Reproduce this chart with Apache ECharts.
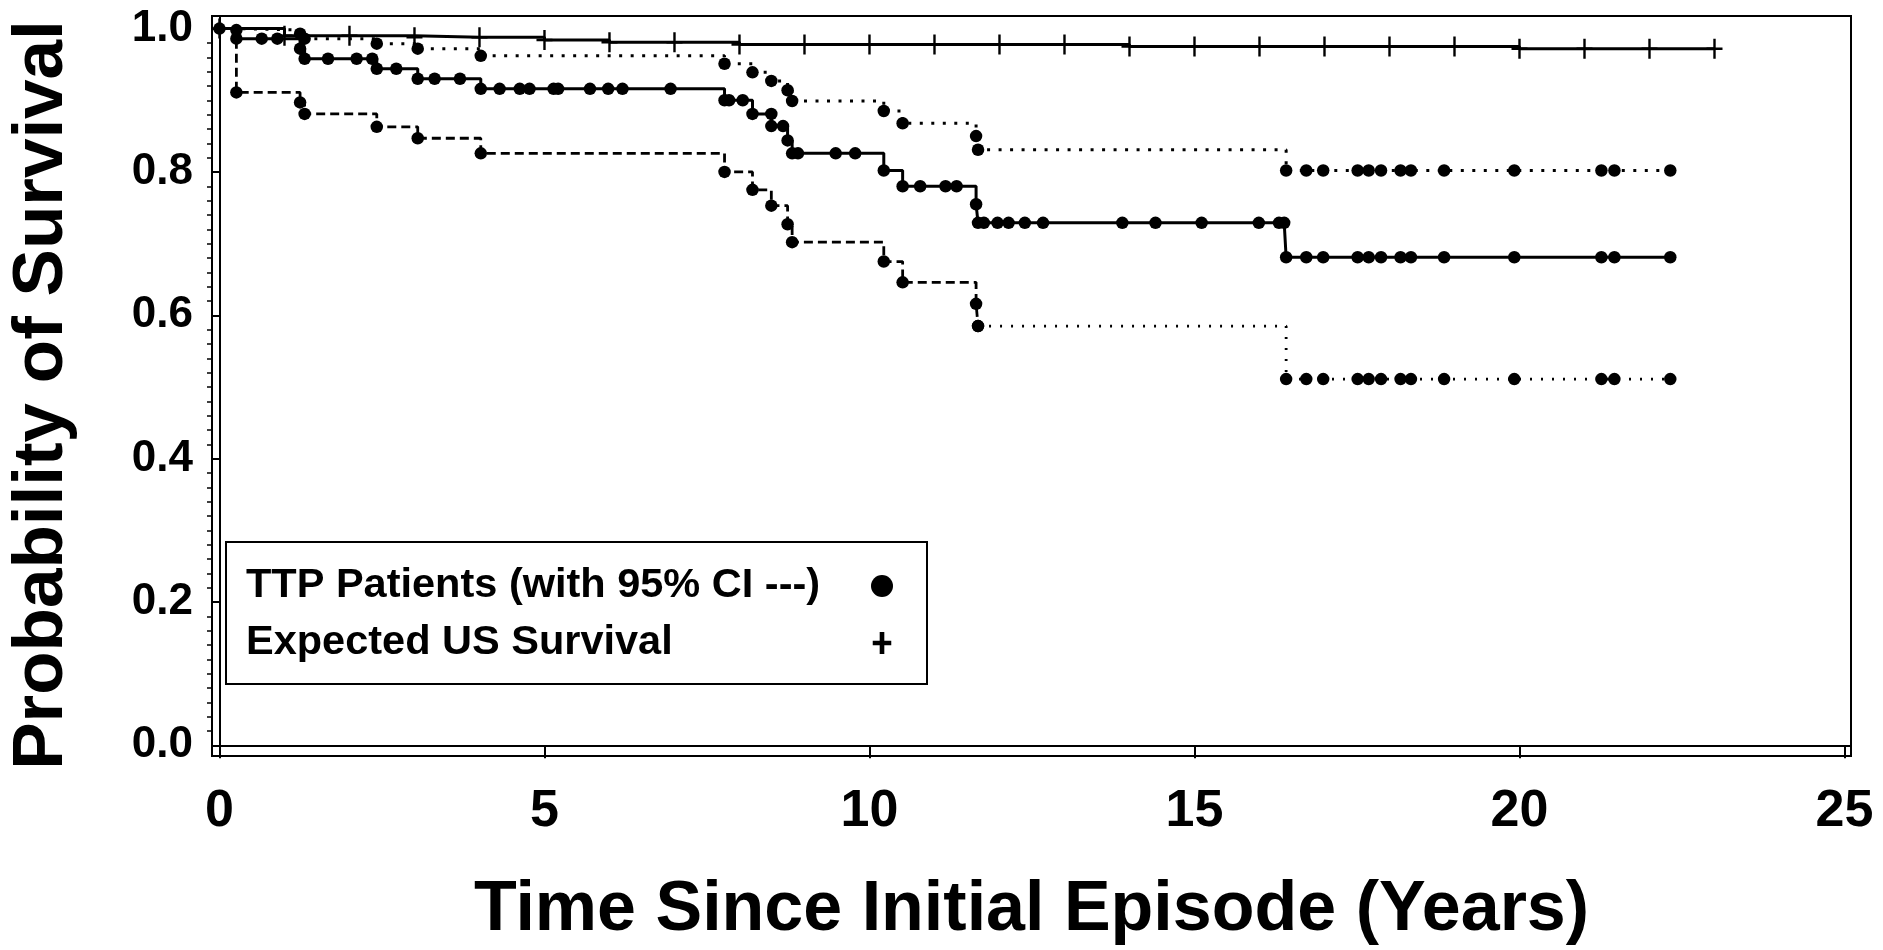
<!DOCTYPE html>
<html>
<head>
<meta charset="utf-8">
<script src="https://cdn.jsdelivr.net/npm/echarts@6/dist/echarts.min.js"></script>
<style>html,body{margin:0;padding:0;background:#fff}#chart{width:1883px;height:950px}</style>
</head>
<body>
<div id="chart"></div>
<script>
// ---------- data ----------
const xTickValues = [0, 5, 10, 15, 20, 25];
const yTickValues = [0.0, 0.2, 0.4, 0.6, 0.8, 1.0];

const KM_NAME = 'TTP Patients (with 95% CI ---)';
const EXP_NAME = 'Expected US Survival';

// Kaplan-Meier estimate (solid, markers at every point)
const kmTimes = [0, 0.26, 0.65, 0.89, 1.24, 1.31, 1.67, 2.11, 2.35, 2.42, 2.72, 3.05, 3.31, 3.70,
  4.02, 4.31, 4.62, 4.77, 5.14, 5.21, 5.70, 5.98, 6.20, 6.94,
  7.77, 7.84, 8.05, 8.20, 8.49, 8.49, 8.67, 8.74, 8.81, 8.90, 9.48, 9.78,
  10.22, 10.51, 10.78, 11.17, 11.34, 11.64, 11.67,
  11.76, 11.97, 12.14, 12.39, 12.67, 13.89, 14.40, 15.11, 15.99, 16.30, 16.38,
  16.41, 16.72, 16.98, 17.51, 17.68, 17.87, 18.17, 18.33, 18.84, 19.92, 21.26, 21.46, 22.32];
const kmSurv = [1.000, 0.986, 0.986, 0.986, 0.972, 0.958, 0.958, 0.958, 0.958, 0.944, 0.944, 0.930, 0.930, 0.930,
  0.916, 0.916, 0.916, 0.916, 0.916, 0.916, 0.916, 0.916, 0.916, 0.916,
  0.900, 0.900, 0.900, 0.881, 0.881, 0.864, 0.864, 0.844, 0.826, 0.826, 0.826, 0.826,
  0.802, 0.780, 0.780, 0.780, 0.780, 0.755, 0.729,
  0.729, 0.729, 0.729, 0.729, 0.729, 0.729, 0.729, 0.729, 0.729, 0.729, 0.729,
  0.681, 0.681, 0.681, 0.681, 0.681, 0.681, 0.681, 0.681, 0.681, 0.681, 0.681, 0.681, 0.681];

// Upper 95% CI (dotted)
const upperTimes = [0, 0.26, 1.24, 1.31, 2.42, 3.05, 4.02, 7.77, 8.20, 8.49, 8.74, 8.81, 10.22, 10.51, 11.64, 11.67,
  16.41, 16.72, 16.98, 17.51, 17.68, 17.87, 18.17, 18.33, 18.84, 19.92, 21.26, 21.46, 22.32];
const upperSurv = [1.000, 0.998, 0.993, 0.986, 0.979, 0.972, 0.962, 0.951, 0.939, 0.927, 0.914, 0.899, 0.885, 0.868, 0.850, 0.831,
  0.802, 0.802, 0.802, 0.802, 0.802, 0.802, 0.802, 0.802, 0.802, 0.802, 0.802, 0.802, 0.802];

// Lower 95% CI (dashed up to 11.67 years, dotted afterwards)
const lowerTimes = [0, 0.26, 1.24, 1.31, 2.42, 3.05, 4.02, 7.77, 8.20, 8.49, 8.74, 8.81, 10.22, 10.51, 11.64, 11.67,
  16.41, 16.72, 16.98, 17.51, 17.68, 17.87, 18.17, 18.33, 18.84, 19.92, 21.26, 21.46, 22.32];
const lowerSurv = [1.000, 0.911, 0.897, 0.881, 0.863, 0.847, 0.826, 0.800, 0.775, 0.753, 0.727, 0.702, 0.675, 0.646, 0.616, 0.585,
  0.511, 0.511, 0.511, 0.511, 0.511, 0.511, 0.511, 0.511, 0.511, 0.511, 0.511, 0.511, 0.511];
const lowerDottedFrom = 11.67;

// Expected US survival (solid with + markers, yearly)
const expTimes = [0, 1, 2, 3, 4, 5, 6, 7, 8, 9, 10, 11, 12, 13, 14, 15, 16, 17, 18, 19, 20, 21, 22, 23];
const expSurv = [1.000, 0.990, 0.990, 0.988, 0.988, 0.984, 0.981, 0.981, 0.978, 0.978, 0.978, 0.978, 0.978, 0.978,
  0.975, 0.975, 0.975, 0.975, 0.975, 0.975, 0.972, 0.972, 0.972, 0.972];

// ---------- helpers ----------
function fontAvailable(name) {
  const c = document.createElement('canvas').getContext('2d');
  const s = 'Time Since Initial Episode 0123456789';
  c.font = 'bold 40px monospace';
  const a = c.measureText(s).width;
  c.font = 'bold 40px "' + name + '", monospace';
  const b = c.measureText(s).width;
  return Math.abs(a - b) > 1;
}
const narrowOK = fontAvailable('Liberation Sans Narrow');
const SANS = '"Liberation Sans", Arial, Helvetica, sans-serif';
const NARROW = narrowOK ? '"Liberation Sans Narrow", "Arial Narrow", sans-serif' : SANS;
const xLabelSize = narrowOK ? 60 : 52;
const xNameSize = narrowOK ? 87 : 70;

const PLUS = 'path://M6.8,0H9.2V8.3H16V10.7H9.2V19H6.8V10.7H0V8.3H6.8Z';
const PLUS_ICON = 'path://M6,0H10V7.5H16V11.5H10V19H6V11.5H0V7.5H6Z';

function pts(times, vals, markFirst, sym) {
  return times.map((t, i) => ({
    value: [t, vals[i]],
    symbol: (i === 0 && !markFirst) ? 'none' : sym
  }));
}

const lowerSplit = lowerTimes.indexOf(lowerDottedFrom);
const yMinor = [];
for (let k = 0; k <= 50; k++) { if (k % 10 !== 0) yMinor.push(+(k * 0.02).toFixed(2)); }

const X_MIN = -0.115, X_MAX = 25.1, Y_MIN = -0.0149, Y_MAX = 1.0176;

const lineBase = {
  type: 'line', step: 'end', showSymbol: true, showAllSymbol: true,
  symbolSize: 12.5, color: '#000', itemStyle: { color: '#000' },
  emphasis: { disabled: true }, animation: false
};

const chart = echarts.init(document.getElementById('chart'), null, { renderer: 'canvas' });
chart.setOption({
  backgroundColor: '#fff',
  animation: false,
  grid: {
    left: 212, right: 32, top: 16, bottom: 194,
    show: true, borderColor: '#000', borderWidth: 2, backgroundColor: 'transparent',
    containLabel: false, outerBoundsMode: 'none'
  },
  xAxis: {
    type: 'value', min: X_MIN, max: X_MAX,
    name: 'Time Since Initial Episode (Years)', nameLocation: 'middle', nameGap: 120,
    nameTextStyle: { fontFamily: NARROW, fontWeight: 'bold', fontSize: xNameSize, color: '#000' },
    axisLine: { show: true, lineStyle: { color: '#000', width: 2 } },
    axisTick: { show: true, customValues: xTickValues, length: 13, lineStyle: { color: '#000', width: 2 } },
    axisLabel: { show: true, customValues: xTickValues, margin: 30, fontFamily: NARROW, fontWeight: 'bold', fontSize: xLabelSize, color: '#000' },
    splitLine: { show: false }
  },
  yAxis: [{
    type: 'value', min: Y_MIN, max: Y_MAX, position: 'left',
    name: 'Probability of Survival', nameLocation: 'middle', nameGap: 134,
    nameTextStyle: { fontFamily: SANS, fontWeight: 'bold', fontSize: 71, color: '#000', padding: [0, 18, 0, 0] },
    axisLine: { show: true, lineStyle: { color: '#000', width: 2 } },
    axisTick: { show: true, customValues: yTickValues, length: 8, lineStyle: { color: '#000', width: 2 } },
    axisLabel: { show: true, customValues: yTickValues, margin: 19, formatter: v => v.toFixed(1),
      fontFamily: SANS, fontWeight: 'bold', fontSize: 44, color: '#000' },
    splitLine: { show: false }
  }, {
    type: 'value', min: Y_MIN, max: Y_MAX, position: 'left', offset: 0,
    axisLine: { show: false },
    axisTick: { show: true, customValues: yMinor, length: 5, lineStyle: { color: '#000', width: 1.5 } },
    axisLabel: { show: false },
    splitLine: { show: false }
  }],
  legend: {
    data: [{ name: KM_NAME, icon: 'circle' }, { name: EXP_NAME, icon: PLUS_ICON }],
    orient: 'vertical', left: 226, top: 542, align: 'right',
    itemWidth: 22, itemHeight: 22, itemGap: 15,
    padding: [23, 34, 20, 20],
    borderColor: '#000', borderWidth: 2, borderRadius: 0, backgroundColor: '#fff',
    selectedMode: false,
    formatter: name => '{t|' + name + '}',
    textStyle: {
      rich: { t: { width: 620, align: 'left', fontSize: 41.5, lineHeight: 48, fontWeight: 'bold', fontFamily: SANS, color: '#000' } }
    }
  },
  series: [
    Object.assign({}, lineBase, {
      name: EXP_NAME, symbol: PLUS, symbolSize: [16, 20], z: 3,
      lineStyle: { color: '#000', width: 3, type: 'solid' },
      data: pts(expTimes, expSurv, true, PLUS)
    }),
    Object.assign({}, lineBase, {
      name: 'Upper 95% CI', symbol: 'circle', z: 4,
      lineStyle: { color: '#000', width: 3, type: [3, 8.5] },
      data: pts(upperTimes, upperSurv, false, 'circle')
    }),
    Object.assign({}, lineBase, {
      name: 'Lower 95% CI', symbol: 'circle', z: 4,
      lineStyle: { color: '#000', width: 2.8, type: [9, 5] },
      data: pts(lowerTimes.slice(0, lowerSplit + 1), lowerSurv.slice(0, lowerSplit + 1), false, 'circle')
    }),
    Object.assign({}, lineBase, {
      name: 'Lower 95% CI (late)', symbol: 'circle', z: 4,
      lineStyle: { color: '#000', width: 2.8, type: [2, 9] },
      data: pts(lowerTimes.slice(lowerSplit), lowerSurv.slice(lowerSplit), true, 'circle')
    }),
    Object.assign({}, lineBase, {
      name: KM_NAME, symbol: 'circle', z: 5,
      lineStyle: { color: '#000', width: 3, type: 'solid' },
      data: pts(kmTimes, kmSurv, true, 'circle')
    })
  ]
});
</script>
</body>
</html>
